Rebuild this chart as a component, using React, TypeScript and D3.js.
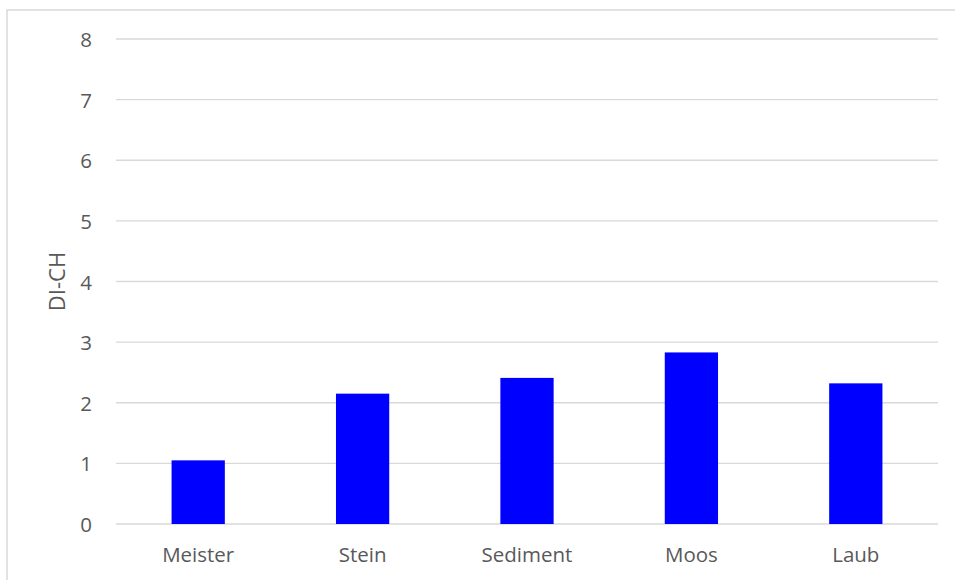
import React from "react";
import * as d3 from "d3";

const categories = ["Meister", "Stein", "Sediment", "Moos", "Laub"];
const values = [1.05, 2.15, 2.41, 2.83, 2.32];
const yTicks = [0, 1, 2, 3, 4, 5, 6, 7, 8];
const yTitle = "DI-CH";

const W = 955;
const H = 580;
const plot = { left: 116, right: 938, top: 39, bottom: 524 };
const font = "'Open Sans', 'Liberation Sans', sans-serif";
const textColor = "#595959";

export default function App() {
  const x = d3
    .scaleBand<string>()
    .domain(categories)
    .range([plot.left, plot.right])
    .paddingInner(0.676)
    .paddingOuter(0.338);
  const y = d3.scaleLinear().domain([0, 8]).range([plot.bottom, plot.top]);

  return (
    <svg
      width={W}
      height={H}
      style={{ position: "absolute", left: 0, top: 0, background: "#fff" }}
    >
      <rect x={7} y={10} width={W + 20} height={H + 20} fill="#fff" stroke="#d9d9d9" strokeWidth={1.5} />
      {yTicks.map((t) => (
        <g key={t}>
          <line x1={plot.left} x2={plot.right} y1={y(t)} y2={y(t)} stroke="#d9d9d9" strokeWidth={1.3} />
          <text
            x={92}
            y={y(t)}
            textAnchor="end"
            dominantBaseline="central"
            fontFamily={font}
            fontSize={20.5}
            fill={textColor}
          >
            {t}
          </text>
        </g>
      ))}
      {categories.map((c, i) => (
        <g key={c}>
          <rect
            x={x(c)}
            y={y(values[i])}
            width={x.bandwidth()}
            height={y(0) - y(values[i])}
            fill="#0000ff"
          />
          <text
            x={(x(c) ?? 0) + x.bandwidth() / 2}
            y={554}
            textAnchor="middle"
            dominantBaseline="central"
            fontFamily={font}
            fontSize={20.5}
            fill={textColor}
          >
            {c}
          </text>
        </g>
      ))}
      <text
        transform={`translate(56, ${(plot.top + plot.bottom) / 2}) rotate(-90)`}
        textAnchor="middle"
        dominantBaseline="central"
        fontFamily={font}
        fontSize={22}
        fill={textColor}
      >
        {yTitle}
      </text>
    </svg>
  );
}
